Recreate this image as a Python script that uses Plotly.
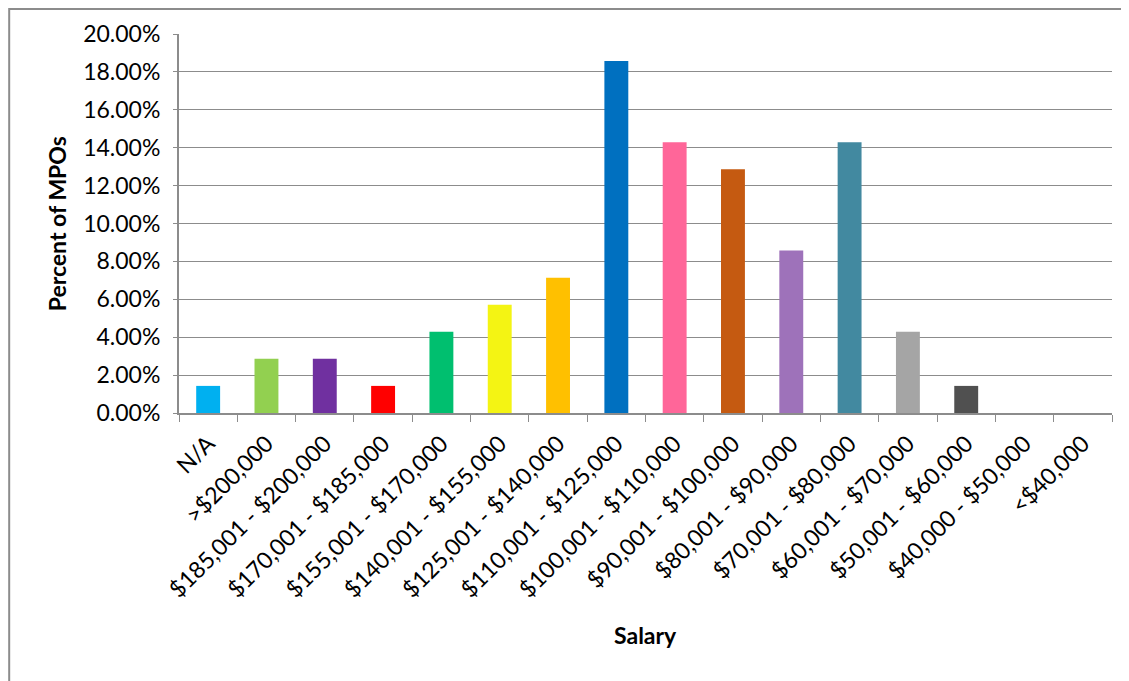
import plotly.graph_objects as go

salary_bands = ["N/A", ">$200,000", "$185,001 - $200,000", "$170,001 - $185,000",
                "$155,001 - $170,000", "$140,001 - $155,000", "$125,001 - $140,000",
                "$110,001 - $125,000", "$100,001 - $110,000", "$90,001 - $100,000",
                "$80,001 - $90,000", "$70,001 - $80,000", "$60,001 - $70,000",
                "$50,001 - $60,000", "$40,000 - $50,000", "<$40,000"]
pct_mpos = [0.0143, 0.0286, 0.0286, 0.0143, 0.0429, 0.0571, 0.0714, 0.1857,
            0.1429, 0.1286, 0.0857, 0.1429, 0.0429, 0.0143, 0.0, 0.0]
bar_colors = ["#00B0F0", "#92D050", "#7030A0", "#FF0000", "#00BF6F", "#F4F413",
              "#FFC000", "#0070C0", "#FF6699", "#C55A11", "#9E72BA", "#4289A0",
              "#A5A5A5", "#505050", "#808080", "#808080"]

font = "Lato, Carlito, Calibri, sans-serif"

fig = go.Figure(go.Bar(x=salary_bands, y=pct_mpos, marker_color=bar_colors,
                       marker_line_width=0))

# page body adds 8px, so the figure is a bit smaller than the window
fig.update_layout(
    width=1121, height=673,
    margin=dict(l=171, r=17, t=26, b=268),
    plot_bgcolor="white", paper_bgcolor="white",
    bargap=0.59, showlegend=False,
    font=dict(family=font, size=23, color="black"),
)
fig.update_yaxes(range=[0, 0.2], dtick=0.02, tickformat=".2%",
                 showgrid=True, gridcolor="#8c8c8c", gridwidth=1,
                 showline=True, linecolor="#8c8c8c", linewidth=2,
                 ticks="outside", ticklen=4, tickcolor="#8c8c8c",
                 ticklabelstandoff=8, zeroline=False, fixedrange=True)
fig.update_xaxes(tickangle=-45, showline=True, linecolor="#8c8c8c", linewidth=2,
                 ticks="outside", ticklen=7, tickcolor="#8c8c8c",
                 tickson="boundaries", ticklabelstandoff=6, showgrid=False)

fig.add_annotation(text="<b>Percent of MPOs</b>", xref="paper", yref="paper",
                   x=-0.131, y=0.5, textangle=-90, showarrow=False,
                   font=dict(size=23), xanchor="center", yanchor="middle")
fig.add_annotation(text="<b>Salary</b>", xref="paper", yref="paper",
                   x=0.5, y=-0.587, showarrow=False,
                   font=dict(size=23), xanchor="center", yanchor="middle")

# outer chart frame (sits just inside the figure edge)
fig.add_shape(type="rect", xref="paper", yref="paper",
              x0=-0.182, x1=1.2, y0=-0.9, y1=1.066,
              line=dict(color="#8c8c8c", width=2))

fig.write_html("out.html")
